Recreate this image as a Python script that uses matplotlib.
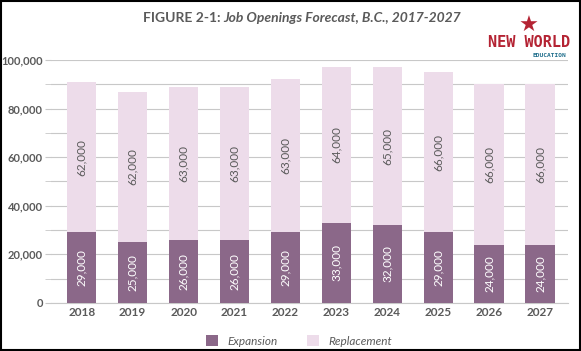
import matplotlib
matplotlib.use("Agg")
import matplotlib.pyplot as plt
from matplotlib.patches import Rectangle
from matplotlib.ticker import FuncFormatter, MultipleLocator

years = ["2018", "2019", "2020", "2021", "2022", "2023", "2024", "2025", "2026", "2027"]
expansion = [29000, 25000, 26000, 26000, 29000, 33000, 32000, 29000, 24000, 24000]
replacement = [62000, 62000, 63000, 63000, 63000, 64000, 65000, 66000, 66000, 66000]

C_EXP = "#8b6889"
C_REP = "#eddcea"
C_TXT = "#5a5a5a"

plt.rcParams["font.family"] = ["Lato", "DejaVu Sans"]

fig = plt.figure(figsize=(5.81, 3.51), dpi=100)
ax = fig.add_axes([0.088, 0.137, 0.89, 0.692])

x = list(range(len(years)))
ax.bar(x, expansion, width=0.58, color=C_EXP, label="Expansion", zorder=3)
ax.bar(x, replacement, width=0.58, bottom=expansion, color=C_REP,
       label="Replacement", zorder=3)

for i in x:
    ax.text(i, expansion[i] / 2, f"{expansion[i]:,}", rotation=90, ha="center",
            va="center", color="white", fontsize=8.5, zorder=4)
    ax.text(i, expansion[i] + replacement[i] / 2, f"{replacement[i]:,}", rotation=90,
            ha="center", va="center", color=C_TXT, fontsize=8.5, zorder=4)

ax.set_xlim(-0.6, 9.55)
ax.set_ylim(0, 100000)
ax.yaxis.set_major_locator(MultipleLocator(20000))
ax.yaxis.set_minor_locator(MultipleLocator(10000))
ax.yaxis.set_major_formatter(FuncFormatter(lambda v, p: f"{int(v):,}"))
ax.grid(axis="y", which="both", color="#c8c8c8", lw=0.8, zorder=0)
ax.tick_params(axis="y", which="both", length=4, color="#c8c8c8", labelsize=8,
               labelcolor=C_TXT, pad=2)
ax.tick_params(axis="x", length=0, labelsize=8.5, labelcolor=C_TXT, pad=3)
ax.set_xticks(x)
ax.set_xticklabels(years, fontweight="bold")
for lab in ax.get_yticklabels():
    lab.set_fontweight("bold")
for s in ["top", "right", "left"]:
    ax.spines[s].set_visible(False)
ax.spines["bottom"].set_color("#c8c8c8")

# title
fig.text(0.385, 0.948, "FIGURE 2-1: ", ha="right", va="center", fontsize=10,
         fontweight="bold", color=C_TXT)
fig.text(0.385, 0.948, "Job Openings Forecast, B.C., 2017-2027", ha="left", va="center",
         fontsize=10, fontstyle="italic", fontweight="bold", color=C_TXT)

# logo
fig.text(0.91, 0.925, "\u2605", ha="center", va="center", fontsize=16, color="#b42333",
         family="DejaVu Sans")
fig.text(0.91, 0.878, "NEW WORLD", ha="center", va="center", fontsize=11,
         fontweight="bold", color="#b42333", family="DejaVu Sans Mono")
fig.text(0.945, 0.842, "EDUCATION", ha="center", va="center", fontsize=4.5,
         fontweight="bold", color="#1f6e8c", family="DejaVu Sans Mono")

leg = ax.legend(loc="upper center", bbox_to_anchor=(0.48, -0.09), ncol=2, frameon=False,
                handlelength=1.0, handleheight=1.0, columnspacing=2.5,
                prop={"style": "italic", "size": 8.5})
for t in leg.get_texts():
    t.set_color(C_TXT)

fig.patches.append(Rectangle((0.002, 0.003), 0.996, 0.994, transform=fig.transFigure,
                             fill=False, edgecolor="black", lw=1.5))

fig.savefig("out.png", dpi=100)
